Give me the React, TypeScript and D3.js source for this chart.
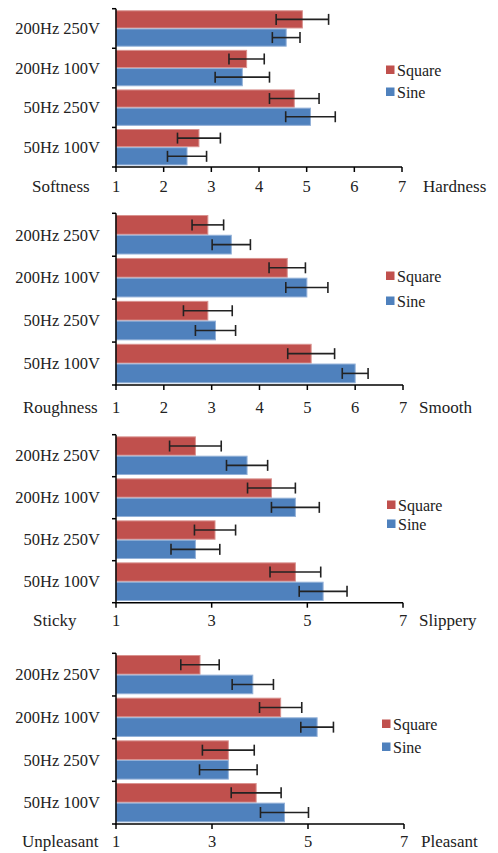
import React, { useRef, useEffect } from 'react';
import * as d3 from 'd3';

// conditions, top to bottom
const conditions = ['200Hz 250V', '200Hz 100V', '50Hz 250V', '50Hz 100V'];
const series = ['Square', 'Sine'];

// hardness
const hardSquare = [4.91, 3.74, 4.74, 2.74];
const hardSquareErr = [0.55, 0.37, 0.52, 0.45];
const hardSine = [4.57, 3.65, 5.08, 2.49];
const hardSineErr = [0.29, 0.57, 0.52, 0.41];

// smoothness
const smoothSquare = [2.92, 4.58, 2.92, 5.08];
const smoothSquareErr = [0.33, 0.38, 0.51, 0.49];
const smoothSine = [3.41, 4.99, 3.08, 6.0];
const smoothSineErr = [0.4, 0.44, 0.42, 0.27];

// slipperiness
const slipSquare = [2.66, 4.25, 3.07, 4.75];
const slipSquareErr = [0.54, 0.5, 0.43, 0.53];
const slipSine = [3.74, 4.75, 2.66, 5.33];
const slipSineErr = [0.43, 0.5, 0.51, 0.5];

// pleasantness
const pleasSquare = [2.75, 4.43, 3.34, 3.92];
const pleasSquareErr = [0.4, 0.44, 0.54, 0.52];
const pleasSine = [3.85, 5.19, 3.34, 4.51];
const pleasSineErr = [0.43, 0.34, 0.6, 0.5];

const ticksAll = [1, 2, 3, 4, 5, 6, 7];
const ticksOdd = [1, 3, 5, 7];

const panels = [
  { sq: hardSquare, sqE: hardSquareErr, si: hardSine, siE: hardSineErr, ticks: ticksAll,
    left: 'Softness', right: 'Hardness', top: 8.7, bottom: 167, x1: 402, base: 192,
    leftX: 32, rightX: 423, legX: 386, legY: [70, 92] },
  { sq: smoothSquare, sqE: smoothSquareErr, si: smoothSine, siE: smoothSineErr, ticks: ticksAll,
    left: 'Roughness', right: 'Smooth', top: 213.3, bottom: 385, x1: 403, base: 413,
    leftX: 23, rightX: 419, legX: 386, legY: [276, 301] },
  { sq: slipSquare, sqE: slipSquareErr, si: slipSine, siE: slipSineErr, ticks: ticksOdd,
    left: 'Sticky', right: 'Slippery', top: 434.7, bottom: 602.7, x1: 403, base: 626,
    leftX: 33, rightX: 419, legX: 387, legY: [505, 524] },
  { sq: pleasSquare, sqE: pleasSquareErr, si: pleasSine, siE: pleasSineErr, ticks: ticksOdd,
    left: 'Unpleasant', right: 'Pleasant', top: 653.3, bottom: 824, x1: 404, base: 847,
    leftX: 22, rightX: 421, legX: 382, legY: [724, 747] },
];

const fills = { Square: '#C0504D', Sine: '#4F81BD' };
const strokes = { Square: '#D9928F', Sine: '#93B1D8' };

const draw = (node) => {
  const svg = d3.select(node);
  svg.selectAll('*').remove();
  const font = '"Liberation Serif", "Times New Roman", serif';

  panels.forEach((p) => {
    const g = svg.append('g');
    const x = d3.scaleLinear().domain([1, 7]).range([116, p.x1]);
    const y = d3.scaleBand().domain(conditions).range([p.top, p.bottom])
      .paddingInner(0.08).paddingOuter(0.04);
    const sub = d3.scaleBand().domain(series).range([0, y.bandwidth()]);
    const step = (p.bottom - p.top) / conditions.length;

    const rows = conditions.flatMap((c, i) => [
      { c, s: 'Square', v: p.sq[i], e: p.sqE[i] },
      { c, s: 'Sine', v: p.si[i], e: p.siE[i] },
    ]);

    g.selectAll('rect.bar').data(rows).enter().append('rect')
      .attr('class', 'bar')
      .attr('x', x(1))
      .attr('y', (d) => y(d.c) + sub(d.s) + 0.5)
      .attr('width', (d) => x(d.v) - x(1))
      .attr('height', sub.bandwidth() - 1)
      .attr('fill', (d) => fills[d.s])
      .attr('stroke', (d) => strokes[d.s])
      .attr('stroke-width', 1);

    // error bars
    const eb = g.selectAll('g.err').data(rows).enter().append('g')
      .attr('stroke', '#222').attr('stroke-width', 1.6);
    const cy = (d) => y(d.c) + sub(d.s) + sub.bandwidth() / 2;
    eb.append('line')
      .attr('x1', (d) => x(d.v - d.e)).attr('x2', (d) => x(d.v + d.e))
      .attr('y1', cy).attr('y2', cy);
    [-1, 1].forEach((k) => {
      eb.append('line')
        .attr('x1', (d) => x(d.v + k * d.e)).attr('x2', (d) => x(d.v + k * d.e))
        .attr('y1', (d) => cy(d) - 5.5).attr('y2', (d) => cy(d) + 5.5);
    });

    // y axis
    g.append('line').attr('x1', x(1)).attr('x2', x(1))
      .attr('y1', p.top).attr('y2', p.bottom)
      .attr('stroke', '#000').attr('stroke-width', 1.5);
    d3.range(conditions.length + 1).forEach((i) => {
      g.append('line').attr('x1', x(1) - 4).attr('x2', x(1))
        .attr('y1', p.top + i * step).attr('y2', p.top + i * step)
        .attr('stroke', '#000').attr('stroke-width', 1.5);
    });
    g.selectAll('text.cat').data(conditions).enter().append('text')
      .attr('x', 100).attr('y', (d) => y(d) + y.bandwidth() / 2)
      .attr('dy', '0.35em').attr('text-anchor', 'end')
      .attr('font-family', font).attr('font-size', 16.5).attr('fill', '#222')
      .text((d) => d);

    // x axis
    g.append('line').attr('x1', x(1) - 0.75).attr('x2', x(7))
      .attr('y1', p.bottom).attr('y2', p.bottom)
      .attr('stroke', '#000').attr('stroke-width', 1.5);
    p.ticks.forEach((t) => {
      g.append('line').attr('x1', x(t)).attr('x2', x(t))
        .attr('y1', p.bottom).attr('y2', p.bottom + 5)
        .attr('stroke', '#000').attr('stroke-width', 1.5);
      g.append('text').attr('x', x(t)).attr('y', p.base)
        .attr('text-anchor', 'middle')
        .attr('font-family', font).attr('font-size', 16.5).attr('fill', '#222')
        .text(t);
    });
    g.append('text').attr('x', p.leftX).attr('y', p.base)
      .attr('font-family', font).attr('font-size', 17).attr('fill', '#222').text(p.left);
    g.append('text').attr('x', p.rightX).attr('y', p.base)
      .attr('font-family', font).attr('font-size', 17).attr('fill', '#222').text(p.right);

    // legend
    series.forEach((s, i) => {
      g.append('rect').attr('x', p.legX).attr('y', p.legY[i] - 4.5)
        .attr('width', 8.5).attr('height', 8.5).attr('fill', fills[s]);
      g.append('text').attr('x', p.legX + 11).attr('y', p.legY[i])
        .attr('dy', '0.35em')
        .attr('font-family', font).attr('font-size', 16).attr('fill', '#222').text(s);
    });
  });
};

const App = () => {
  const ref = useRef(null);
  useEffect(() => {
    if (ref.current) draw(ref.current);
  }, []);
  return (
    <div style={{ position: 'absolute', left: 0, top: 0 }}>
      <svg ref={ref} width={498} height={853} style={{ display: 'block', background: '#fff' }} />
    </div>
  );
};

export default App;
